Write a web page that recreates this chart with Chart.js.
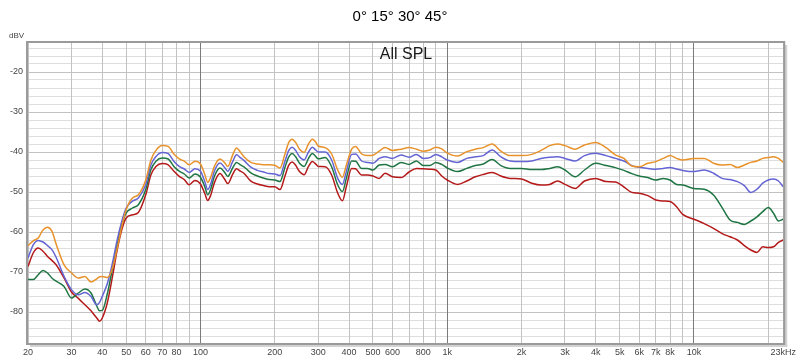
<!DOCTYPE html>
<html>
<head>
<meta charset="utf-8">
<script src="https://cdn.jsdelivr.net/npm/chart.js@4"></script>
<style>
  html, body { margin: 0; padding: 0; background: #fff; }
  #wrap { width: 800px; height: 361px; }
</style>
</head>
<body>
<div id="wrap"><canvas id="splChart" width="800" height="361"></canvas></div>
<script>
// Frequencies (Hz) the curves were read at
const freqs = [
  20, 21, 22, 23, 24, 25, 26, 28, 30, 32, 34, 36, 38, 39, 40, 42, 44, 46, 48, 50, 53, 56, 60, 63, 66, 70, 74, 78, 82, 86, 90, 95,
  100, 104, 107, 110, 114, 120, 125, 129, 135, 140, 145, 150, 160, 170, 180, 190, 200, 210, 220, 228, 235, 243, 252, 263, 274, 284, 292, 300,
  320, 340, 360, 376, 390, 410, 425, 450, 475, 500, 530, 560, 600, 650, 700, 750, 800, 850, 900, 950,
  1000, 1100, 1200, 1300, 1400, 1520, 1650, 1800, 2000, 2200, 2400, 2600, 2800, 3000, 3300, 3600, 4000, 4400, 4800, 5200,
  5600, 6000, 6500, 7000, 7500, 8000, 8500, 9000, 10000, 11000, 12000, 13000, 14000, 15000, 16000, 17000, 18000, 19000, 20000, 21000, 22000, 23000
];

// SPL in dBV per angle
const spl0 = [
  -63.4, -62.2, -61.5, -59.5, -58.8, -59.8, -63, -68.2, -70.2, -71.5, -71.1, -72.5, -71.7, -71.2, -71.1, -71.4, -69, -64, -58.6, -54.4, -51.5, -50.7, -47, -42, -39.6, -38.4, -38.6, -40.5, -41.7, -42.3, -43.2, -42.3,
  -43, -45.5, -47.6, -46.3, -43.5, -41.75, -42.6, -43.6, -40.8, -39, -40, -41.2, -42.6, -43, -43.2, -43.2, -43.3, -44, -40.5, -37.6, -36.8, -37.6, -39.3, -40.1, -38, -36.8, -37.4, -38.5,
  -38.9, -40.5, -44.5, -46.3, -43.3, -39.3, -38.6, -40.5, -40.9, -40.8, -39.8, -38.9, -39.6, -39.3, -38.9, -39.3, -39.8, -39.5, -38.8, -39.2,
  -40.3, -41, -39.9, -39.3, -38.9, -38, -39.8, -40.9, -40.9, -40.6, -39.6, -38.4, -38, -38.4, -39.3, -38.25, -37.6, -38.9, -40.7, -41.6,
  -43.5, -43.7, -42.8, -42.4, -41.6, -40.9, -41.6, -42, -41.6, -41.6, -42.8, -43.25, -43.1, -43.9, -43.25, -42.6, -42.25, -41.6, -41.4, -41.2, -41.6, -42.6
];
const spl15 = [
  -66.5, -63.2, -62.1, -62.5, -63.4, -64.4, -66.3, -71.1, -74.4, -75.7, -75.1, -76.1, -78.2, -77.6, -76.1, -72.75, -67.75, -61.9, -57.3, -54, -52.3, -51.5, -48.2, -43.2, -41.1, -40.1, -40.4, -42.3, -43.6, -44.25, -45.1, -44.2,
  -44.8, -47.3, -49.4, -48, -44.7, -42.75, -43.8, -44.8, -42.4, -40.7, -41.4, -42.1, -43.8, -44.6, -45, -45.4, -45.5, -45.9, -42.3, -39.6, -38.8, -39.6, -41.2, -42, -40, -38.8, -39.4, -40,
  -40, -42, -46.6, -48.1, -44.9, -40.6, -40.5, -42.25, -42.6, -42.8, -41.6, -41.2, -41.6, -40.75, -41.3, -40.6, -41.6, -41.4, -40.6, -41.2,
  -42, -42.6, -41.6, -41.2, -40.9, -39.5, -41.2, -42.25, -42.4, -42.25, -41.6, -41.3, -41.2, -41.6, -42.25, -40.9, -40.3, -40.9, -41.6, -42.25,
  -43.4, -43.8, -44.1, -44.3, -44.1, -43.9, -44.25, -44.6, -44.9, -44.5, -45.3, -46.6, -46.9, -47.4, -48.4, -50.1, -49.3, -47.8, -47, -46.75, -47.25, -48.7
];
const spl30 = [
  -71.9, -71.9, -70.7, -69.6, -70.25, -71.5, -72.3, -73.6, -76.5, -75.25, -74.25, -75.25, -78.5, -79.7, -79.6, -75.25, -69, -63.2, -58.2, -55.25, -54, -53.2, -49.4, -44.4, -42.3, -41.5, -41.75, -43.6, -44.8, -45.5, -46.5, -45.5,
  -46.3, -48.6, -50.7, -49.3, -46, -44, -45, -46.1, -44, -42.6, -43.2, -43.7, -45.2, -46, -46.5, -46.9, -47, -47.4, -43.8, -41.2, -40.4, -41.2, -42.8, -43.6, -41.6, -40.4, -41, -41.7,
  -41.4, -43.7, -48.25, -49.9, -46.6, -42.25, -42.3, -44.1, -44.1, -44.5, -43.25, -43.1, -43.7, -42.6, -43.1, -42.25, -43.4, -43.4, -42.6, -43.1,
  -44, -44.9, -44.1, -43.4, -43, -41.9, -43.4, -44.1, -44.1, -44.4, -44.4, -44.1, -43.7, -44.5, -46.2, -44.5, -42.8, -43.4, -43.9, -44.6,
  -45.4, -46, -46.4, -47, -46.6, -47, -48.1, -48.25, -49.1, -49.3, -50.75, -53.9, -57, -57.6, -58.1, -57.25, -56.2, -54.9, -53.9, -55.3, -57.25, -56.8
];
const spl45 = [
  -68.6, -65.25, -64, -64.8, -66.1, -67.1, -68.2, -71.5, -75, -76.6, -78.2, -79.7, -81.5, -82.3, -81.5, -77.5, -71.1, -64.4, -59.4, -56.5, -55.7, -55.1, -50.7, -45.7, -43.6, -42.9, -43.2, -44.8, -46.1, -46.9, -48.2, -47.1,
  -48, -50.3, -52.1, -50.8, -47.6, -45.4, -46.7, -47.9, -45.6, -44.2, -44.8, -45.3, -47.3, -48, -48.4, -48.7, -48.7, -49.4, -46, -43.3, -42.5, -43.3, -44.9, -45.7, -43.6, -42.4, -42.9, -43.6,
  -43.7, -45.75, -50.3, -52.2, -48.7, -44.1, -44.2, -45.75, -45.75, -46, -46.6, -45.3, -46.2, -46.4, -45, -44.1, -44.2, -44.3, -44.5, -46,
  -47, -48.1, -47.25, -46.2, -45.6, -45.1, -46, -46.6, -46.75, -47.8, -48.25, -48.1, -47.25, -48.1, -49.1, -47.25, -46.6, -47.4, -47.5, -48.75,
  -50.1, -50.3, -50.9, -52, -52.25, -52.4, -53.7, -55.6, -56.8, -57.9, -59.1, -60.4, -61.2, -62, -63.4, -64.5, -65.1, -63.7, -63.9, -63.7, -62.6, -62
];

// Axis ticks
const xTicks = [20, 30, 40, 50, 60, 70, 80, 90, 100, 200, 300, 400, 500, 600, 700, 800, 900,
  1000, 2000, 3000, 4000, 5000, 6000, 7000, 8000, 9000, 10000, 20000, 23000];
const xTickLabels = ['20', '30', '40', '50', '60', '70', '80', '', '100', '200', '300', '400', '500', '600', '', '800', '',
  '1k', '2k', '3k', '4k', '5k', '6k', '7k', '8k', '', '10k', '', '23kHz'];
const yTicks = [-86, -84, -82, -80, -78, -76, -74, -72, -70, -68, -66, -64, -62, -60, -58, -56, -54, -52, -50,
  -48, -46, -44, -42, -40, -38, -36, -34, -32, -30, -28, -26, -24, -22, -20, -18, -16, -14];
const decades = [100, 1000, 10000];

function makeSeries(label, values, color) {
    return {
        label: label,
        data: freqs.map((f, i) => ({ x: f, y: values[i] })),
        borderColor: color,
        backgroundColor: color,
        borderWidth: 1.5,
        pointRadius: 0,
        cubicInterpolationMode: 'monotone',
        fill: false
    };
}

// Title, unit and inner label, plus the sunken frame round the plot
const decorPlugin = {
    id: 'decor',
    afterDraw(chart) {
        const { ctx, chartArea: a } = chart;
        ctx.save();

        // frame shadow
        ctx.fillStyle = '#d2d2d2';
        ctx.fillRect(a.right + 1, a.top + 2, 3, a.bottom - a.top + 2);
        ctx.fillRect(a.left + 2, a.bottom + 1, a.right - a.left + 2, 3);
        ctx.strokeStyle = '#9a9a9a';
        ctx.lineWidth = 2;
        ctx.strokeRect(a.left - 1, a.top - 1, a.right - a.left + 2, a.bottom - a.top + 2);

        ctx.fillStyle = '#000';
        ctx.textAlign = 'center';
        ctx.textBaseline = 'middle';
        ctx.font = '15px "Liberation Sans", Arial, sans-serif';
        ctx.fillText('0° 15° 30° 45°', 400, 17);

        ctx.fillStyle = '#1a1a1a';
        ctx.font = '16px "Liberation Sans", Arial, sans-serif';
        ctx.fillText('All SPL', 406, 55);

        ctx.fillStyle = '#444';
        ctx.font = '8px "Liberation Sans", Arial, sans-serif';
        ctx.textAlign = 'left';
        ctx.fillText('dBV', 9, 36);
        ctx.restore();
    }
};

new Chart(document.getElementById('splChart'), {
    type: 'line',
    data: {
        datasets: [
            makeSeries('0°', spl0, '#e8922c'),
            makeSeries('15°', spl15, '#6464d4'),
            makeSeries('30°', spl30, '#1f7543'),
            makeSeries('45°', spl45, '#b41a1a')
        ]
    },
    options: {
        responsive: false,
        animation: false,
        devicePixelRatio: 1,
        layout: { padding: { top: 43, right: 13, left: 0, bottom: 0 } },
        plugins: {
            legend: { display: false },
            tooltip: { enabled: false },
            title: { display: false }
        },
        scales: {
            x: {
                type: 'logarithmic',
                min: 20,
                max: 23000,
                afterBuildTicks: (scale) => { scale.ticks = xTicks.map(v => ({ value: v })); },
                afterFit: (scale) => { scale.height = 18; },
                border: { display: false },
                grid: {
                    z: -1,
                    drawTicks: false,
                    lineWidth: 1,
                    color: (ctx) => decades.includes(ctx.tick && ctx.tick.value) ? '#7a7a7a' : '#c2c2c2'
                },
                ticks: {
                    autoSkip: false,
                    maxRotation: 0,
                    padding: 4,
                    color: '#444',
                    font: { family: '"Liberation Sans", Arial, sans-serif', size: 9 },
                    callback: (value, index) => xTickLabels[index]
                }
            },
            y: {
                min: -87.75,
                max: -12.75,
                afterBuildTicks: (scale) => { scale.ticks = yTicks.map(v => ({ value: v })); },
                afterFit: (scale) => { scale.width = 28; },
                border: { display: false },
                grid: {
                    z: -2,
                    drawTicks: false,
                    lineWidth: 1,
                    color: (ctx) => (ctx.tick && ctx.tick.value % 10 === 0) ? '#c2c2c2' : '#dedede'
                },
                ticks: {
                    autoSkip: false,
                    padding: 5,
                    color: '#444',
                    font: { family: '"Liberation Sans", Arial, sans-serif', size: 9 },
                    callback: (value) => value % 10 === 0 ? String(value) : ''
                }
            }
        }
    },
    plugins: [decorPlugin]
});
</script>
</body>
</html>
